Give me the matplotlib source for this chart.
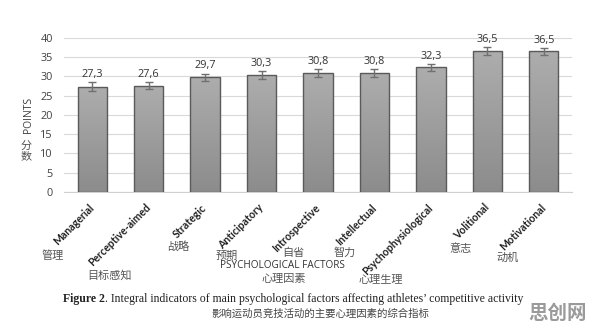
import numpy as np
import matplotlib
matplotlib.use('Agg')
import matplotlib.pyplot as plt
from matplotlib.colors import LinearSegmentedColormap

# ──── Data ─────────────────────────────────────────────────────
FACTORS   = ['Managerial', 'Perceptive-aimed', 'Strategic', 'Anticipatory',
             'Introspective', 'Intellectual', 'Psychophysiological',
             'Volitional', 'Motivational']
FACTORS_CN = ['管理', '目标感知', '战略', '预期', '自省', '智力',
              '心理生理', '意志', '动机']
POINTS    = [27.3, 27.6, 29.7, 30.3, 30.8, 30.8, 32.3, 36.5, 36.5]
ERRORS    = [1.1, 1.0, 1.0, 1.1, 1.0, 1.0, 0.9, 1.0, 0.9]
Y_TICKS   = [0, 5, 10, 15, 20, 25, 30, 35, 40]

# chinese label positions in figure pixels (x, y from top)
CN_POS = [(53, 256), (109, 275), (178, 247), (227, 256), (293, 253),
          (345, 253), (381, 280), (460, 249), (508, 258)]

W, H = 596, 331
CJK = ['Noto Sans CJK SC', 'DejaVu Sans']
LAT = ['Open Sans', 'DejaVu Sans']
TICK = ['Lato', 'DejaVu Sans']


def fx(px):
    return px / W


def fy(py):
    return 1 - py / H


# ═══════════════════════════════════════════════════════════════
fig = plt.figure(figsize=(W / 100, H / 100), dpi=100)
ax = fig.add_axes([fx(64), fy(192), fx(572) - fx(64), fy(37.7) - fy(192)])

x = np.arange(len(FACTORS))
bars = ax.bar(x, POINTS, width=0.52, color='none', edgecolor='#5a5a5a',
              linewidth=1.0, zorder=3)

# vertical gradient inside each bar
cmap = LinearSegmentedColormap.from_list('g', ['#8c8c8c', '#adadad'])
grad = np.linspace(0, 1, 256).reshape(-1, 1)
for b in bars:
    x0, y0 = b.get_x(), b.get_y()
    im = ax.imshow(grad, cmap=cmap, origin='lower', aspect='auto',
                   extent=(x0, x0 + b.get_width(), y0, y0 + b.get_height()),
                   zorder=2)
    im.set_clip_path(b)

ax.errorbar(x, POINTS, yerr=ERRORS, fmt='none', ecolor='#707070',
            elinewidth=1.0, capsize=3, capthick=1.0, zorder=4)

for xi, v, e in zip(x, POINTS, ERRORS):
    ax.annotate(f'{v:.1f}'.replace('.', ','), (xi, v + e),
                xytext=(0, 1.5), textcoords='offset points',
                ha='center', va='bottom', fontsize=7.8, color='#333333',
                family=LAT)

ax.set_xlim(-0.5, len(FACTORS) - 0.5)
ax.set_ylim(0, 40)
ax.set_yticks(Y_TICKS)
ax.set_yticklabels([str(t) for t in Y_TICKS], fontsize=7.8, color='#404040',
                   family=LAT)
ax.yaxis.grid(True, color='#d9d9d9', linewidth=0.8, zorder=0)
ax.set_axisbelow(True)
ax.tick_params(axis='y', length=0, pad=8)
ax.tick_params(axis='x', length=0, pad=10)
for s in ['top', 'right', 'left']:
    ax.spines[s].set_visible(False)
ax.spines['bottom'].set_color('#d0d0d0')

ax.set_xticks(x)
ax.set_xticklabels(FACTORS, rotation=45, ha='right', va='center',
                   rotation_mode='anchor', fontsize=7.6, color='#222222',
                   family=TICK, fontweight='bold')

# chinese factor names
for name, (px, py) in zip(FACTORS_CN, CN_POS):
    fig.text(fx(px), fy(py), name, ha='center', va='center', fontsize=8,
             color='#555555', family=CJK)

fig.text(fx(282), fy(266), 'PSYCHOLOGICAL FACTORS', ha='center', va='center',
         fontsize=7.2, color='#333333', family=LAT)
fig.text(fx(284), fy(279), '心理因素', ha='center', va='center', fontsize=8,
         color='#555555', family=CJK)

# y label
fig.text(fx(28), fy(115), 'POINTS', rotation=90, ha='center', va='center',
         fontsize=7.5, color='#404040', family=LAT)
fig.text(fx(26), fy(151), '分\n数', ha='center', va='center', fontsize=8,
         color='#555555', family=CJK, linespacing=1.1)

# caption: bold lead-in followed by regular text
lead = fig.text(fx(63), fy(299), 'Figure 2', ha='left', va='center',
                fontsize=8.5, family='Liberation Serif', fontweight='bold',
                color='#222222')
fig.canvas.draw()
bb = lead.get_window_extent(renderer=fig.canvas.get_renderer())
fig.text(bb.x1 / W, fy(299),
         ". Integral indicators of main psychological factors affecting "
         "athletes\u2019 competitive activity",
         ha='left', va='center', fontsize=8.5, family='Liberation Serif',
         color='#222222')
fig.text(fx(320), fy(314), '影响运动员竞技活动的主要心理因素的综合指标',
         ha='center', va='center', fontsize=7.5, color='#444444', family=CJK)

# watermark
fig.text(fx(558), fy(313), '思创网', ha='center', va='center', fontsize=14,
         color='#9a9a9a', family=CJK, fontweight='bold')

fig.savefig('out.png', dpi=100)
